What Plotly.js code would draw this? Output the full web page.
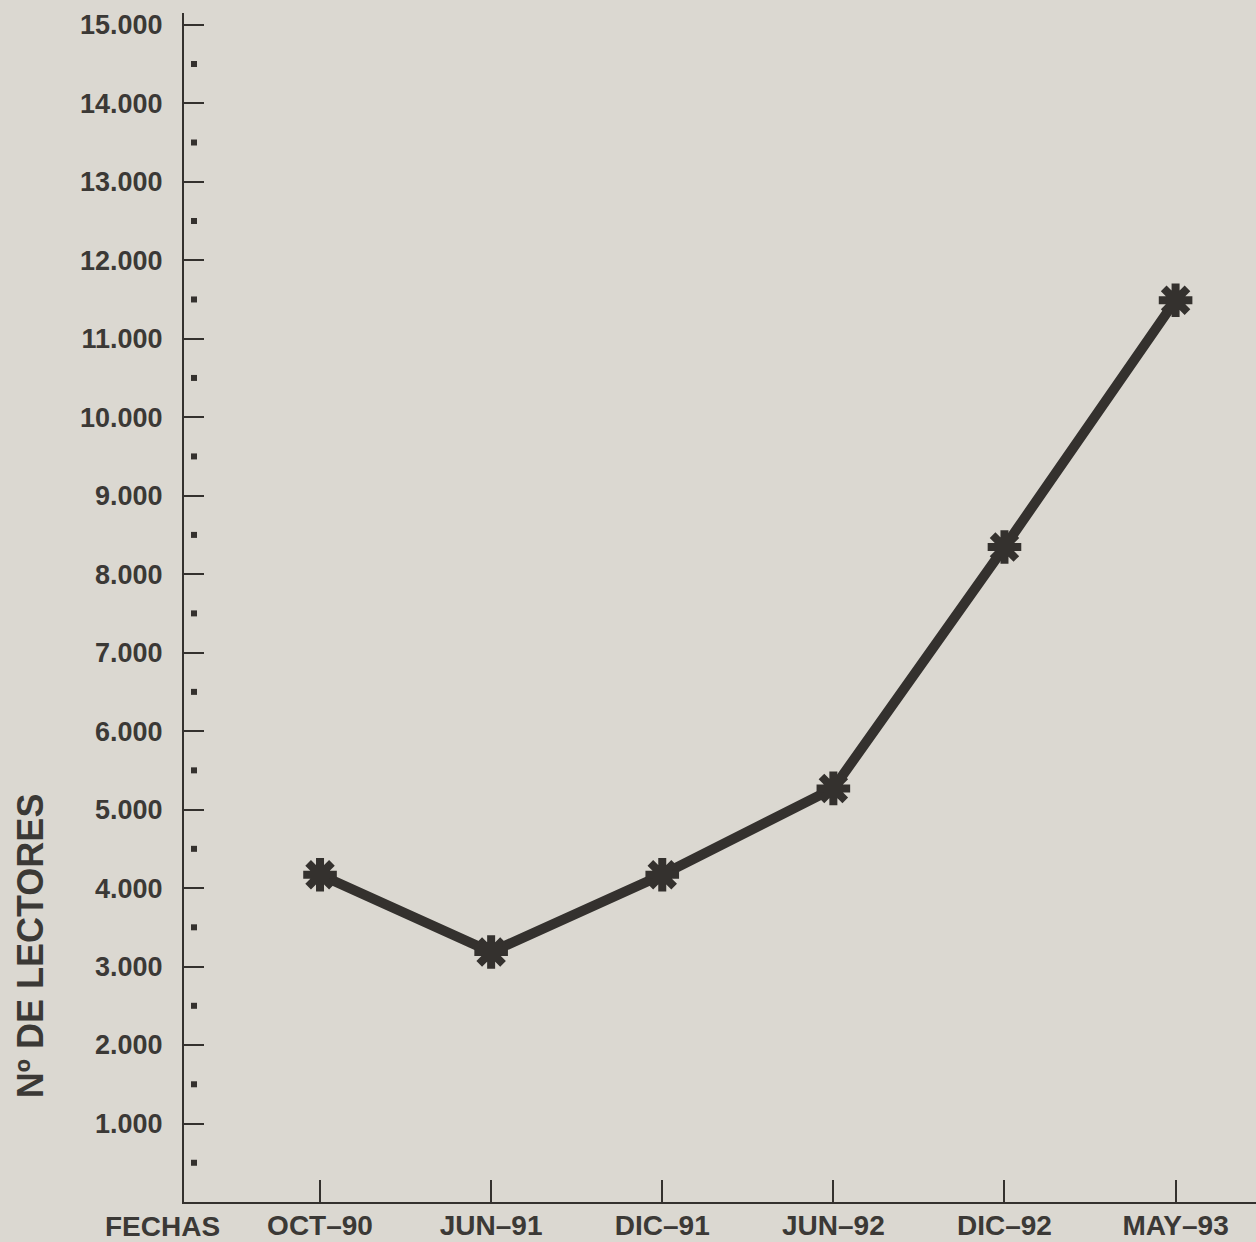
<!DOCTYPE html>
<html>
<head>
<meta charset="utf-8">
<script src="https://cdn.plot.ly/plotly-3.0.1.min.js"></script>
<style>
html,body{margin:0;padding:0;background:#dbd8d1;}
#chart{width:1256px;height:1242px;}
</style>
</head>
<body>
<div id="chart"></div>
<script>
const categories = ["OCT–90", "JUN–91", "DIC–91", "JUN–92", "DIC–92", "MAY–93"];
const lectores = [4170, 3185, 4170, 5270, 8345, 11490];
const yTickVals = [0,1000,2000,3000,4000,5000,6000,7000,8000,9000,10000,11000,12000,13000,14000,15000];
const yTickText = ["", "1.000","2.000","3.000","4.000","5.000","6.000","7.000","8.000","9.000","10.000","11.000","12.000","13.000","14.000","15.000"];
const minorVals = [500,1500,2500,3500,4500,5500,6500,7500,8500,9500,10500,11500,12500,13500,14500];
const xAxisLabel = "FECHAS";
const yAxisLabel = "Nº DE LECTORES";

const ink = "#34312e";
const textInk = "#3b3936";
const font = "Liberation Sans, Arial, sans-serif";

const trace = {
  x: categories,
  y: lectores,
  type: "scatter",
  mode: "lines+markers",
  line: {color: ink, width: 10},
  marker: {symbol: "asterisk-open", size: 28, color: ink, line: {color: ink, width: 8}},
  hoverinfo: "skip",
  cliponaxis: false
};

const shapes = minorVals.map(v => ({
  type: "rect",
  xref: "paper", xsizemode: "pixel", xanchor: 0, x0: 7, x1: 13,
  yref: "y", ysizemode: "pixel", yanchor: v, y0: -3, y1: 3,
  fillcolor: ink, line: {width: 0}
}));

const layout = {
  width: 1256, height: 1242,
  margin: {l: 184, r: 0, t: 13, b: 40},
  paper_bgcolor: "#dbd8d1",
  plot_bgcolor: "#dbd8d1",
  showlegend: false,
  font: {family: font, color: textInk},
  xaxis: {
    type: "category",
    range: [-0.795, 5.47],
    showgrid: false, zeroline: false,
    showline: true, linecolor: ink, linewidth: 2,
    ticks: "inside", ticklen: 22, tickwidth: 2, tickcolor: ink,
    tickfont: {family: font, size: 28, color: textInk, weight: "bold"},
    ticklabelstandoff: -3,
    fixedrange: true
  },
  yaxis: {
    range: [0, 15150],
    showgrid: false, zeroline: false,
    showline: true, linecolor: ink, linewidth: 2,
    ticks: "inside", ticklen: 20, tickwidth: 2, tickcolor: ink,
    tickmode: "array", tickvals: yTickVals, ticktext: yTickText,
    tickfont: {family: font, size: 27, color: textInk, weight: "bold"},
    ticklabelstandoff: 14,
    fixedrange: true
  },
  shapes: shapes,
  annotations: [
    {
      text: xAxisLabel, xref: "paper", yref: "paper",
      x: -0.0196, y: 0, xanchor: "center", yanchor: "middle", yshift: -24,
      showarrow: false,
      font: {family: font, size: 28, color: textInk, weight: "bold"}
    },
    {
      text: yAxisLabel, xref: "paper", yref: "paper",
      x: -0.1437, y: 0.216, xanchor: "center", yanchor: "middle",
      textangle: -90, showarrow: false,
      font: {family: font, size: 36, color: textInk, weight: "bold"}
    }
  ]
};

Plotly.newPlot("chart", [trace], layout, {displayModeBar: false, staticPlot: true});
</script>
</body>
</html>
